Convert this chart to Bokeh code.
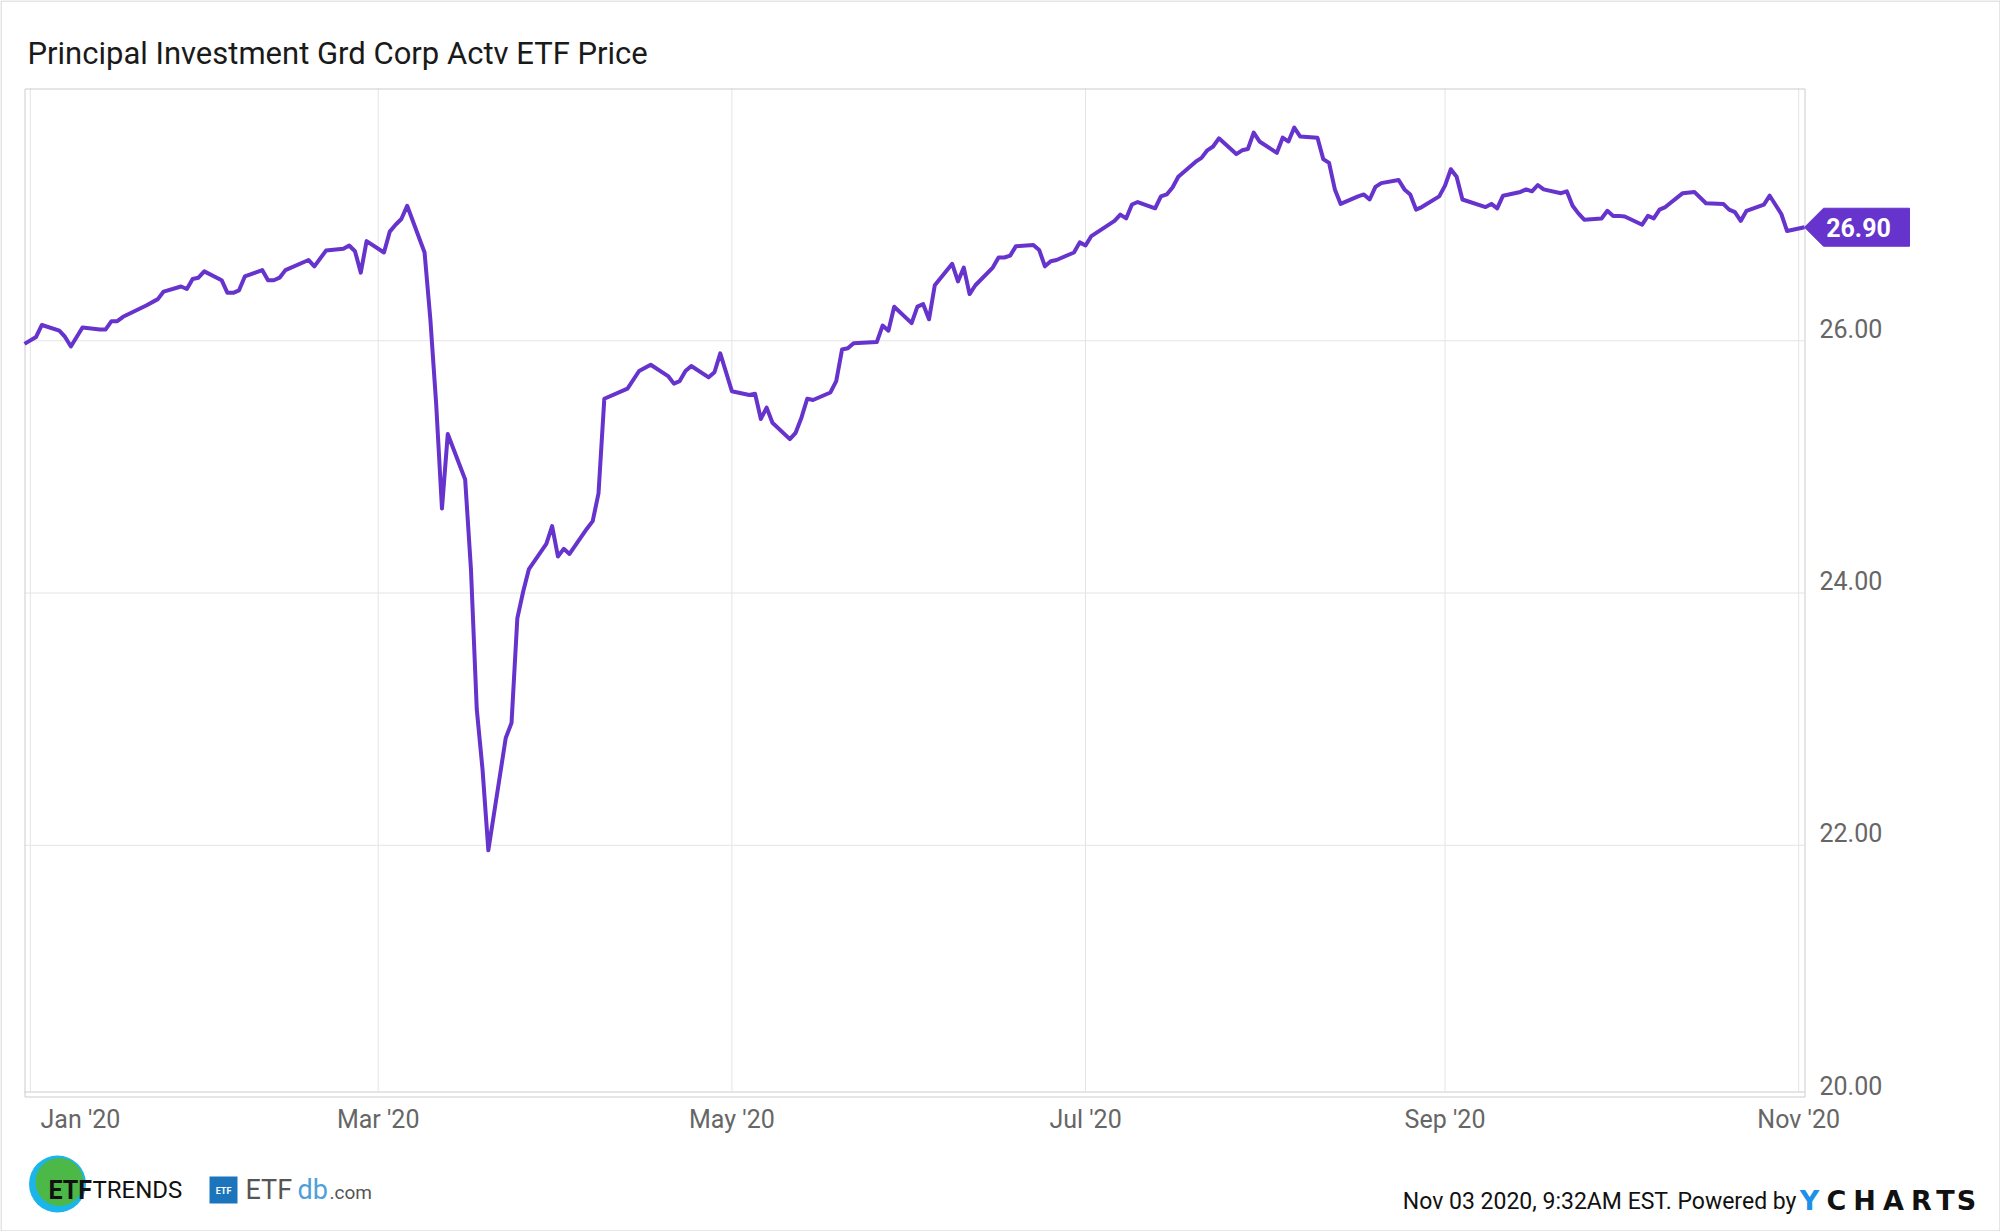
import pandas as pd
from bokeh.plotting import figure
from bokeh.models import ColumnDataSource, Range1d
from bokeh.core.properties import value
from bokeh.embed import file_html
from bokeh.resources import INLINE

# ---------------- data ----------------
dates = [
    "2019-12-31", "2020-01-02", "2020-01-03", "2020-01-06", "2020-01-07", "2020-01-08", "2020-01-10",
    "2020-01-13", "2020-01-14", "2020-01-15", "2020-01-16", "2020-01-17", "2020-01-21", "2020-01-23",
    "2020-01-24", "2020-01-27", "2020-01-28", "2020-01-29", "2020-01-30", "2020-01-31", "2020-02-03",
    "2020-02-04", "2020-02-05", "2020-02-06", "2020-02-07", "2020-02-10", "2020-02-11", "2020-02-12",
    "2020-02-13", "2020-02-14", "2020-02-18", "2020-02-19", "2020-02-21", "2020-02-24", "2020-02-25",
    "2020-02-26", "2020-02-27", "2020-02-28", "2020-03-02", "2020-03-03", "2020-03-04", "2020-03-05",
    "2020-03-06", "2020-03-09", "2020-03-10", "2020-03-11", "2020-03-12", "2020-03-13", "2020-03-16",
    "2020-03-17", "2020-03-18", "2020-03-19", "2020-03-20", "2020-03-23", "2020-03-24", "2020-03-25",
    "2020-03-26", "2020-03-27", "2020-03-30", "2020-03-31", "2020-04-01", "2020-04-02", "2020-04-03",
    "2020-04-06", "2020-04-07", "2020-04-08", "2020-04-09", "2020-04-13", "2020-04-15", "2020-04-17",
    "2020-04-20", "2020-04-21", "2020-04-22", "2020-04-23", "2020-04-24", "2020-04-27", "2020-04-28",
    "2020-04-29", "2020-05-01", "2020-05-04", "2020-05-05", "2020-05-06", "2020-05-07", "2020-05-08",
    "2020-05-11", "2020-05-12", "2020-05-13", "2020-05-14", "2020-05-15", "2020-05-18", "2020-05-19",
    "2020-05-20", "2020-05-21", "2020-05-22", "2020-05-26", "2020-05-27", "2020-05-28", "2020-05-29",
    "2020-06-01", "2020-06-02", "2020-06-03", "2020-06-04", "2020-06-05", "2020-06-08", "2020-06-09",
    "2020-06-10", "2020-06-11", "2020-06-12", "2020-06-15", "2020-06-16", "2020-06-17", "2020-06-18",
    "2020-06-19", "2020-06-22", "2020-06-23", "2020-06-24", "2020-06-25", "2020-06-26", "2020-06-29",
    "2020-06-30", "2020-07-01", "2020-07-02", "2020-07-06", "2020-07-07", "2020-07-08", "2020-07-09",
    "2020-07-10", "2020-07-13", "2020-07-14", "2020-07-15", "2020-07-16", "2020-07-17", "2020-07-20",
    "2020-07-21", "2020-07-22", "2020-07-23", "2020-07-24", "2020-07-27", "2020-07-28", "2020-07-29",
    "2020-07-30", "2020-07-31", "2020-08-03", "2020-08-04", "2020-08-05", "2020-08-06", "2020-08-07",
    "2020-08-10", "2020-08-11", "2020-08-12", "2020-08-13", "2020-08-14", "2020-08-17", "2020-08-18",
    "2020-08-19", "2020-08-20", "2020-08-21", "2020-08-24", "2020-08-25", "2020-08-26", "2020-08-27",
    "2020-08-28", "2020-08-31", "2020-09-01", "2020-09-02", "2020-09-03", "2020-09-04", "2020-09-08",
    "2020-09-09", "2020-09-10", "2020-09-11", "2020-09-14", "2020-09-15", "2020-09-16", "2020-09-17",
    "2020-09-18", "2020-09-21", "2020-09-22", "2020-09-23", "2020-09-24", "2020-09-25", "2020-09-28",
    "2020-09-29", "2020-09-30", "2020-10-01", "2020-10-02", "2020-10-05", "2020-10-06", "2020-10-07",
    "2020-10-08", "2020-10-09", "2020-10-12", "2020-10-14", "2020-10-16", "2020-10-19", "2020-10-20",
    "2020-10-21", "2020-10-22", "2020-10-23", "2020-10-26", "2020-10-27", "2020-10-29", "2020-10-30",
    "2020-11-02",
]
prices = [
    25.975, 26.03, 26.125, 26.08, 26.03, 25.955, 26.105,
    26.09, 26.09, 26.155, 26.155, 26.19, 26.28, 26.33,
    26.39, 26.43, 26.41, 26.49, 26.50, 26.55, 26.48,
    26.38, 26.38, 26.40, 26.51, 26.56, 26.48, 26.48,
    26.50, 26.56, 26.64, 26.59, 26.715, 26.73, 26.755,
    26.71, 26.54, 26.79, 26.70, 26.865, 26.92, 26.965,
    27.07, 26.70, 26.17, 25.50, 24.67, 25.26, 24.90,
    24.19, 23.08, 22.60, 21.96, 22.85, 22.97, 23.80,
    24.01, 24.19, 24.39, 24.53, 24.29, 24.35, 24.31,
    24.51, 24.57, 24.79, 25.54, 25.62, 25.76, 25.81,
    25.72, 25.66, 25.68, 25.76, 25.80, 25.71, 25.75,
    25.90, 25.60, 25.57, 25.58, 25.38, 25.47, 25.35,
    25.22, 25.27, 25.39, 25.54, 25.53, 25.59, 25.68,
    25.93, 25.94, 25.98, 25.99, 26.12, 26.08, 26.27,
    26.14, 26.27, 26.29, 26.17, 26.44, 26.61, 26.47,
    26.58, 26.37, 26.44, 26.58, 26.66, 26.66, 26.675,
    26.75, 26.76, 26.72, 26.59, 26.63, 26.64, 26.70,
    26.78, 26.755, 26.83, 26.95, 27.00, 26.97, 27.08,
    27.10, 27.05, 27.145, 27.16, 27.215, 27.30, 27.42,
    27.45, 27.51, 27.54, 27.605, 27.48, 27.51, 27.52,
    27.65, 27.58, 27.49, 27.61, 27.58, 27.69, 27.62,
    27.61, 27.44, 27.41, 27.20, 27.085, 27.145, 27.16,
    27.12, 27.22, 27.25, 27.275, 27.20, 27.16, 27.04,
    27.06, 27.145, 27.23, 27.36, 27.30, 27.12, 27.06,
    27.085, 27.05, 27.15, 27.18, 27.20, 27.185, 27.235,
    27.20, 27.17, 27.185, 27.07, 27.01, 26.96, 26.97,
    27.03, 26.99, 26.99, 26.985, 26.92, 26.99, 26.97,
    27.04, 27.06, 27.17, 27.18, 27.09, 27.085, 27.04,
    27.02, 26.95, 27.03, 27.08, 27.15, 27.005, 26.87,
    26.90,
]
title_text = "Principal Investment Grd Corp Actv ETF Price"
month_ticks = ["2020-01-01", "2020-03-01", "2020-05-01", "2020-07-01", "2020-09-01", "2020-11-01"]
y_ticks = [20, 22, 24, 26]
y_grid = [22, 24, 26]
y_min, y_max = 20, 28
footer_text = "Nov 03 2020, 9:32AM EST. Powered by"

# ---------------- layout constants (page pixels) ----------------
LINE = "#6633cc"
GRID = "#e4e4e4"
BORDER = "#cccccc"
W, H = 2000, 1231
FL, FT, FR, FB = 24, 88, 1804, 1097        # plot frame edges

dt = pd.to_datetime(dates)
src = ColumnDataSource(dict(date=dt, price=prices))


def ms(t):
    return pd.Timestamp(t).timestamp() * 1000.0


# data ranges widened so that the data area sits exactly on the frame rectangle
x0, x1 = ms(dt[0]), ms(dt[-1])
xs_per_px = (x1 - x0) / (FR - FL)
ys_per_px = (y_max - y_min) / (FB - FT)
x_range = Range1d(x0 - FL * xs_per_px, x1 + (W - FR) * xs_per_px)
y_range = Range1d(y_min - (H - FB) * ys_per_px, y_max + FT * ys_per_px)

p = figure(width=W, height=H, x_axis_type="datetime", x_axis_location=None, y_axis_location=None,
           x_range=x_range, y_range=y_range, min_border=0,
           output_backend="svg", toolbar_location=None)
p.outline_line_color = None
p.grid.visible = False
p.background_fill_color = "white"
p.border_fill_color = "white"
p.extra_x_ranges = {"px": Range1d(0, W)}
p.extra_y_ranges = {"px": Range1d(H, 0)}


def txt(x, y, text, size, color, align="left", style="normal", xr="px", yr="px", yoff=0,
        font="Roboto"):
    p.text(x=x, y=y, text=text, text_font=value(font), text_font_size=value(f"{size}px"),
           text_color=color, text_align=align, text_baseline="middle", text_font_style=style,
           x_range_name=xr, y_range_name=yr, y_offset=yoff)


# whole-chart outer border
p.quad(left=0.5, right=W - 0.5, top=0.5, bottom=H - 0.5,
       fill_color=None, line_color=BORDER, line_width=1, x_range_name="px", y_range_name="px")

# grid lines
mt = pd.to_datetime(month_ticks)
p.segment(x0=mt, x1=mt, y0=[FT] * len(mt), y1=[FB - 6] * len(mt),
          line_color=GRID, line_width=1, y_range_name="px")
p.segment(x0=[FL] * len(y_grid), x1=[FR] * len(y_grid), y0=y_grid, y1=y_grid,
          line_color=GRID, line_width=1, x_range_name="px")

# plot frame
p.quad(left=FL + 0.5, right=FR + 0.5, top=FT + 0.5, bottom=FB - 0.5,
       fill_color=None, line_color=BORDER, line_width=1, x_range_name="px", y_range_name="px")
p.segment(x0=[FL], x1=[FR], y0=[FB - 5.5], y1=[FB - 5.5], line_color=BORDER, line_width=1,
          x_range_name="px", y_range_name="px")

# price line
p.line("date", "price", source=src, line_color=LINE, line_width=4, line_join="round")

# x tick labels (the Jan label is pushed right to stay inside the chart)
x_labels = [d.strftime("%b '%y") for d in mt]
txt([FL + 16], [1119], [x_labels[0]], 25, "#666666")
txt(list(mt[1:]), [1119] * (len(mt) - 1), x_labels[1:], 25, "#666666", align="center",
    xr="default")

# y tick labels (sit just above their grid line)
txt([FR + 15] * len(y_ticks), y_ticks, [f"{t:.2f}" for t in y_ticks], 25, "#666666",
    yr="default", yoff=-12.5)

# last value flag
last = prices[-1]
half = 19 * ys_per_px
p.patch(x=[FR, FR + 19, FR + 105, FR + 105, FR + 19],
        y=[last, last + half, last + half, last - half, last - half],
        fill_color=LINE, line_color=LINE, x_range_name="px")
txt([FR + 54], [last], [f"{last:.2f}"], 25, "white", align="center", style="bold",
    yr="default")

# title
txt([27], [53], [title_text], 31, "#1a1a1a")

# ETF Trends logo
p.circle(x=[57], y=[1183.5], radius=28.5, fill_color="#1cb5ea", line_color=None,
         x_range_name="px", y_range_name="px")
p.circle(x=[59], y=[1181.5], radius=24, fill_color="#4cb848", line_color=None,
         x_range_name="px", y_range_name="px")
txt([48], [1189.5], ["ETF"], 25, "#111111", style="bold")
txt([92], [1189.5], ["TRENDS"], 24, "#111111")

# ETFdb logo
p.quad(left=209, right=237, top=1176, bottom=1203, fill_color="#1b75bc", line_color=None,
       x_range_name="px", y_range_name="px")
txt([223], [1190], ["ETF"], 9, "white", align="center", style="bold")
txt([245], [1189], ["ETF"], 27, "#555555")
txt([297], [1189], ["db"], 27, "#4f9fd8")
txt([329], [1191.5], [".com"], 19, "#555555")

# footer
txt([1796], [1201], [footer_text], 23, "#111111", align="right")
txt([1809, 1836, 1864, 1893, 1921, 1945, 1966], [1199.5] * 7, list("YCHARTS"), 27,
    ["#1e90e8"] + ["#111111"] * 6, align="center", style="bold", font="DejaVu Sans")

open("out.html", "w").write(file_html(p, INLINE))
